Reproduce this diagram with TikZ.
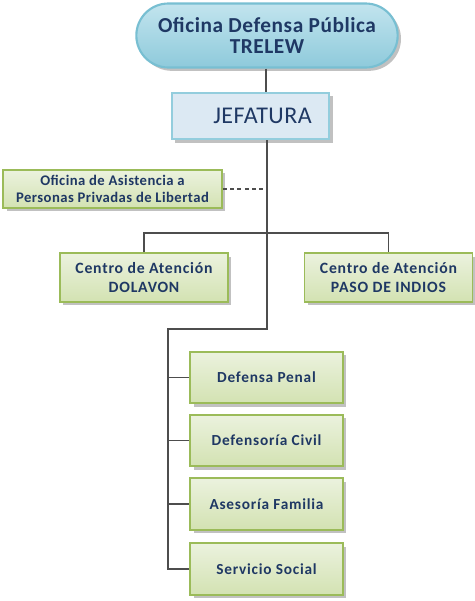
\documentclass[tikz,border=0pt]{standalone}
\usepackage{fontspec}
\setmainfont{Carlito}
\usetikzlibrary{shadows}
\definecolor{navy}{HTML}{1F3864}
\definecolor{pillTop}{HTML}{C2E4EE}
\definecolor{pillBot}{HTML}{8ECADB}
\definecolor{pillBorder}{HTML}{78BFD2}
\definecolor{jefFill}{HTML}{DCE9F3}
\definecolor{jefBorder}{HTML}{93CDDD}
\definecolor{grTop}{HTML}{EBF2DE}
\definecolor{grBot}{HTML}{D3E2B2}
\definecolor{grBorder}{HTML}{9BBB59}
\definecolor{lineGray}{HTML}{4D4D4D}
\newcommand{\spaced}[1]{\addfontfeatures{LetterSpace=#1}}
\tikzset{
  shadowed/.style={drop shadow={shadow xshift=2.5pt,shadow yshift=-2.5pt,opacity=0.35,fill=black!70}},
  pill/.style={shadowed,rounded corners=24pt,draw=pillBorder,line width=1.6pt,top color=pillTop,bottom color=pillBot,
    text=navy,font=\fontsize{16}{17}\selectfont\bfseries\spaced{2.5},align=center,minimum width=196pt,minimum height=48pt,inner sep=0pt},
  jefbox/.style={shadowed,draw=jefBorder,line width=1.4pt,fill=jefFill,text=navy,
    font=\fontsize{18}{20}\selectfont\spaced{2},minimum width=118pt,minimum height=35pt,inner sep=0pt},
  grbox/.style={shadowed,draw=grBorder,line width=1.4pt,top color=grTop,bottom color=grBot,text=navy,align=center,inner sep=0pt},
  conn/.style={draw=lineGray,line width=0.8pt},
}
\begin{document}
\begin{tikzpicture}[x=0.75pt,y=-0.75pt]
\useasboundingbox (0,0) rectangle (475,601);
\node[pill] (top) at (267,35.5) {Oficina Defensa Pública\\[-1pt]TRELEW};
\node[jefbox] (jef) at (250.5,116) {\hspace*{18pt}JEFATURA};
\node[grbox,minimum width=164pt,minimum height=28.5pt,font=\fontsize{11}{13}\selectfont\bfseries\spaced{3}] (asis) at (112.5,189) {Oficina de Asistencia a\\Personas Privadas de Libertad};
\node[grbox,minimum width=126pt,minimum height=36.5pt,font=\fontsize{11.8}{14}\selectfont\bfseries\spaced{5}] (dol) at (144,277.5) {Centro de Atención\\DOLAVON};
\node[grbox,minimum width=126pt,minimum height=36.5pt,font=\fontsize{11.8}{14}\selectfont\bfseries\spaced{5}] (paso) at (388.5,277.5) {Centro de Atención\\PASO DE INDIOS};
\foreach \n/\y/\t in {pen/377.5/Defensa Penal, civ/440.5/Defensoría Civil, fam/504/Asesoría Familia, soc/569/Servicio Social}{
  \node[grbox,minimum width=114.5pt,minimum height=38.5pt,font=\fontsize{11.5}{13}\selectfont\bfseries\spaced{5}] (\n) at (266.5,\y) {\t};
}
\coordinate (v1) at (266,140);
\coordinate (j1) at (267,329);
\coordinate (j2) at (168,329);
\coordinate (h1) at (267,233);
\coordinate (hd) at (266,189);
\draw[conn] (top.south -| v1) -- (jef.north -| v1);
\draw[conn] (jef.south -| j1) -- (j1) -- (j2) -- (j2 |- soc.west) -- (soc.west);
\draw[conn] (j2 |- pen.west) -- (pen.west);
\draw[conn] (j2 |- civ.west) -- (civ.west);
\draw[conn] (j2 |- fam.west) -- (fam.west);
\draw[conn] (dol.north) -- (dol.north |- h1) -- (paso.north |- h1) -- (paso.north);
\draw[conn,dashed,dash pattern=on 3pt off 2.5pt] (asis.east) -- (hd);
\end{tikzpicture}
\end{document}
